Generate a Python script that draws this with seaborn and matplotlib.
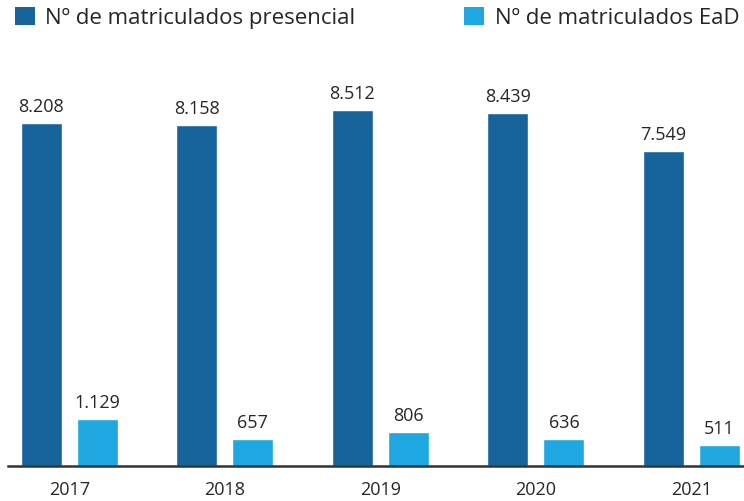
import matplotlib
matplotlib.use("Agg")
import matplotlib.pyplot as plt
import seaborn as sns
import pandas as pd
from matplotlib.patches import Patch

years = ["2017", "2018", "2019", "2020", "2021"]
presencial = [8208, 8158, 8512, 8439, 7549]
ead = [1129, 657, 806, 636, 511]
series_names = ["Nº de matriculados presencial", "Nº de matriculados EaD"]
colors = ["#17639b", "#1fa7e1"]

df = pd.DataFrame({
    "ano": years * 2,
    "valor": presencial + ead,
    "serie": [series_names[0]] * len(years) + [series_names[1]] * len(years),
})

sns.set_theme(style="white")
plt.rcParams["font.family"] = ["Open Sans", "DejaVu Sans"]
text_color = "#262626"

W, H = 744, 501
fig = plt.figure(figsize=(W / 100, H / 100), dpi=100)
ax = fig.add_axes([8 / W, 35 / H, (744 - 8) / W, (466 - 60) / H])

sns.barplot(data=df, x="ano", y="valor", hue="serie", palette=colors,
            width=0.72, gap=0.267, saturation=1, legend=False, ax=ax)

for container in ax.containers:
    labels = [f"{int(v):,}".replace(",", ".") for v in container.datavalues]
    ax.bar_label(container, labels=labels, padding=5, fontsize=13,
                 color=text_color)

ax.set_xlim(-0.395, 4.338)
ax.set_ylim(0, 9715)
ax.set_xlabel("")
ax.set_ylabel("")
ax.set_yticks([])
for side in ["left", "right", "top"]:
    ax.spines[side].set_visible(False)
ax.spines["bottom"].set_color("#333333")
ax.spines["bottom"].set_linewidth(1.8)
ax.tick_params(axis="x", length=0, pad=11, labelsize=13, labelcolor=text_color)

handles = [Patch(facecolor=c, edgecolor="none") for c in colors]
fig.legend(handles, series_names, loc="upper left",
           bbox_to_anchor=(15 / W, 1 - 7 / H), ncol=2, frameon=False,
           fontsize=16, labelcolor=text_color, borderpad=0,
           borderaxespad=0, handlelength=0.9, handleheight=0.9,
           handletextpad=0.47, columnspacing=4.9)

fig.savefig("out.png", dpi=100)
